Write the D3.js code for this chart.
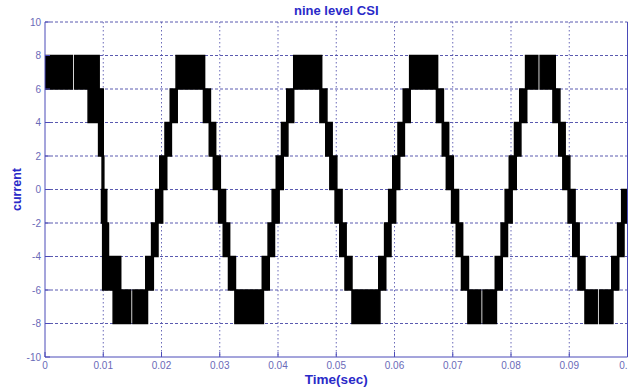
<!DOCTYPE html>
<html>
<head>
<meta charset="utf-8">
<title>nine level CSI</title>
<script src="https://d3js.org/d3.v7.min.js"></script>
<style>
  body { margin: 0; background: #fff; }
  svg { display: block; font-family: "Liberation Sans", Arial, sans-serif; }
  .tick-label { fill: #6a6ab8; font-size: 10px; }
  .title, .axis-title { fill: #2a2ac8; font-weight: bold; }
</style>
</head>
<body>
<svg width="629" height="390"></svg>
<script>
// tick values and labels
var xTicks = [0, 0.01, 0.02, 0.03, 0.04, 0.05, 0.06, 0.07, 0.08, 0.09, 0.1];
var xTickLabels = ['0', '0.01', '0.02', '0.03', '0.04', '0.05', '0.06', '0.07', '0.08', '0.09', '0.'];
var yTicks = [-10, -8, -6, -4, -2, 0, 2, 4, 6, 8, 10];
var yTickLabels = ['-10', '-8', '-6', '-4', '-2', '0', '2', '4', '6', '8', '10'];

// current levels of the nine level waveform
var levels = [-8, -6, -4, -2, 0, 2, 4, 6, 8];

// switching bands [t start, t end] (sec), one list per pair of adjacent levels
var band6to8 = [[0, 0.0047], [0.0051, 0.0093], [0.0225, 0.0274], [0.0427, 0.0475],
  [0.0626, 0.0674], [0.0825, 0.0846], [0.0850, 0.0876]];
var band4to6 = [[0.0074, 0.0100], [0.0215, 0.0227], [0.0272, 0.0284], [0.0415, 0.0427],
  [0.0472, 0.0484], [0.0615, 0.0627], [0.0672, 0.0684], [0.0815, 0.0827], [0.0872, 0.0884]];
var band2to4 = [[0.0092, 0.0100], [0.0206, 0.0217], [0.0282, 0.0293], [0.0406, 0.0417],
  [0.0482, 0.0493], [0.0606, 0.0617], [0.0682, 0.0693], [0.0806, 0.0817], [0.0882, 0.0893]];
var band0to2 = [[0.0098, 0.0101], [0.0197, 0.0209], [0.0289, 0.0301], [0.0397, 0.0409],
  [0.0489, 0.0501], [0.0597, 0.0609], [0.0689, 0.0701], [0.0797, 0.0809], [0.0889, 0.0901]];
var bandM2to0 = [[0.0097, 0.0106], [0.0190, 0.0202], [0.0298, 0.0310], [0.0390, 0.0402],
  [0.0498, 0.0510], [0.0590, 0.0602], [0.0698, 0.0710], [0.0790, 0.0802], [0.0898, 0.0910],
  [0.0990, 0.1000]];
var bandM4toM2 = [[0.0099, 0.0109], [0.0183, 0.0194], [0.0306, 0.0317], [0.0383, 0.0394],
  [0.0506, 0.0517], [0.0583, 0.0594], [0.0706, 0.0717], [0.0783, 0.0794], [0.0906, 0.0917],
  [0.0983, 0.0994]];
var bandM6toM4 = [[0.0099, 0.0130], [0.0173, 0.0186], [0.0315, 0.0327], [0.0373, 0.0385],
  [0.0515, 0.0527], [0.0573, 0.0585], [0.0715, 0.0727], [0.0773, 0.0785], [0.0915, 0.0927],
  [0.0973, 0.0985]];
var bandM8toM6 = [[0.0117, 0.0147], [0.0151, 0.0176], [0.0326, 0.0375], [0.0527, 0.0575],
  [0.0726, 0.0748], [0.0752, 0.0775], [0.0927, 0.0948], [0.0952, 0.0975]];

var bandSets = [
  {low: levels[7], high: levels[8], bands: band6to8},
  {low: levels[6], high: levels[7], bands: band4to6},
  {low: levels[5], high: levels[6], bands: band2to4},
  {low: levels[4], high: levels[5], bands: band0to2},
  {low: levels[3], high: levels[4], bands: bandM2to0},
  {low: levels[2], high: levels[3], bands: bandM4toM2},
  {low: levels[1], high: levels[2], bands: bandM6toM4},
  {low: levels[0], high: levels[1], bands: bandM8toM6}
];

var svg = d3.select('svg');
var pLeft = 45, pRight = 627.5, pTop = 22, pBottom = 357;

var x = d3.scaleLinear().domain([0, 0.1]).range([pLeft, pRight]);
var y = d3.scaleLinear().domain([-10, 10]).range([pBottom, pTop]);

svg.append('defs').append('clipPath').attr('id', 'plot')
  .append('rect')
  .attr('x', pLeft).attr('y', pTop)
  .attr('width', pRight - pLeft).attr('height', pBottom - pTop);

// grid
var grid = svg.append('g');
grid.selectAll('.vg')
  .data(xTicks.slice(1, -1))
  .enter().append('line')
  .attr('x1', d => x(d)).attr('x2', d => x(d))
  .attr('y1', pTop).attr('y2', pBottom)
  .attr('stroke', '#6a6ab8').attr('stroke-width', 1)
  .attr('stroke-dasharray', '1.5,2.5');
grid.selectAll('.hg')
  .data(yTicks.slice(1))
  .enter().append('line')
  .attr('x1', pLeft).attr('x2', pRight)
  .attr('y1', d => y(d)).attr('y2', d => y(d))
  .attr('stroke', '#5a5ab0').attr('stroke-width', 1)
  .attr('stroke-dasharray', '3,2');

// waveform
var wave = svg.append('g').attr('clip-path', 'url(#plot)');
bandSets.forEach(function (s) {
  wave.selectAll(null)
    .data(s.bands)
    .enter().append('rect')
    .attr('x', d => x(d[0]))
    .attr('width', d => x(d[1]) - x(d[0]))
    .attr('y', y(s.high))
    .attr('height', y(s.low) - y(s.high))
    .attr('fill', '#000')
    .attr('stroke', '#000')
    .attr('stroke-width', 1.5);
});

// axes box
svg.append('line').attr('x1', pLeft).attr('x2', pLeft).attr('y1', pTop).attr('y2', pBottom)
  .attr('stroke', '#4a4ab8');
svg.append('line').attr('x1', pLeft).attr('x2', pRight).attr('y1', pBottom).attr('y2', pBottom)
  .attr('stroke', '#4a4ab8');
svg.append('line').attr('x1', pRight).attr('x2', pRight).attr('y1', pTop).attr('y2', pBottom)
  .attr('stroke', '#4a4ab8');

// ticks (inward)
svg.append('g').selectAll('line')
  .data(xTicks)
  .enter().append('line')
  .attr('x1', d => x(d)).attr('x2', d => x(d))
  .attr('y1', pBottom).attr('y2', pBottom - 5)
  .attr('stroke', '#4a4ab8');
svg.append('g').selectAll('line')
  .data(yTicks)
  .enter().append('line')
  .attr('x1', pLeft).attr('x2', pLeft + 5)
  .attr('y1', d => y(d)).attr('y2', d => y(d))
  .attr('stroke', '#4a4ab8');

// tick labels
svg.append('g').selectAll('text')
  .data(xTicks)
  .enter().append('text')
  .attr('class', 'tick-label')
  .attr('x', d => x(d))
  .attr('y', pBottom + 12)
  .attr('text-anchor', (d, i) => i === xTicks.length - 1 ? 'end' : 'middle')
  .text((d, i) => xTickLabels[i]);
svg.append('g').selectAll('text')
  .data(yTicks)
  .enter().append('text')
  .attr('class', 'tick-label')
  .attr('x', pLeft - 4)
  .attr('y', d => y(d) + 3.5)
  .attr('text-anchor', 'end')
  .text((d, i) => yTickLabels[i]);

// titles
svg.append('text')
  .attr('class', 'title')
  .attr('x', (pLeft + pRight) / 2)
  .attr('y', 15)
  .attr('text-anchor', 'middle')
  .attr('font-size', 13)
  .text('nine level CSI');
svg.append('text')
  .attr('class', 'axis-title')
  .attr('x', (pLeft + pRight) / 2)
  .attr('y', 384)
  .attr('text-anchor', 'middle')
  .attr('font-size', 13.5)
  .text('Time(sec)');
svg.append('text')
  .attr('class', 'axis-title')
  .attr('transform', 'translate(21,' + ((pTop + pBottom) / 2) + ') rotate(-90)')
  .attr('text-anchor', 'middle')
  .attr('font-size', 12.5)
  .text('current');
</script>
</body>
</html>
